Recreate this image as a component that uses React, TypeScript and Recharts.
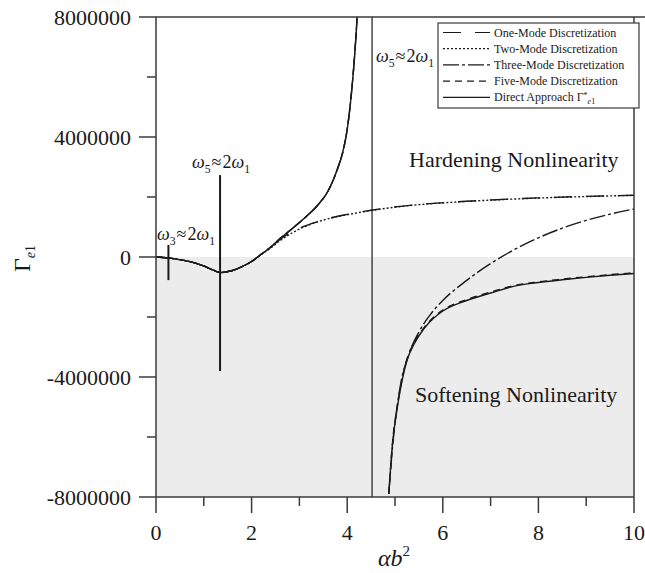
import React from "react";
import {
  LineChart,
  Line,
  XAxis,
  YAxis,
  ReferenceArea,
  ReferenceLine,
} from "recharts";

const FONT = '"Liberation Serif", "Times New Roman", serif';
const INK = "#1a1a1a";
const AXIS = "#3a3a3a";

// axes
const xTicks = [0, 1, 2, 3, 4, 5, 6, 7, 8, 9, 10];
const yTicks = [
  -8000000, -6000000, -4000000, -2000000, 0, 2000000, 4000000, 6000000,
  8000000,
];
const asymptoteX = 4.52;

// left branch shared by direct / five-mode / three-mode
const mainLeftX = [
  0, 0.25, 0.5, 0.75, 1.0, 1.2, 1.35, 1.45, 1.6, 1.8, 2.0, 2.2, 2.4, 2.6, 2.8,
  3.0, 3.2, 3.4, 3.6, 3.8, 3.9, 4.0, 4.1, 4.15, 4.2, 4.25,
];
const mainLeftY = [
  0, -30000, -90000, -170000, -300000, -440000, -520000, -500000, -450000,
  -320000, -150000, 90000, 330000, 620000, 880000, 1150000, 1430000, 1760000,
  2200000, 2950000, 3450000, 4250000, 5650000, 6600000, 7800000, 9500000,
];

// hardening branch (one-mode)
const upperX = [
  0, 0.25, 0.5, 0.75, 1.0, 1.2, 1.35, 1.45, 1.6, 1.8, 2.0, 2.2, 2.4, 2.6, 2.8,
  3.0, 3.25, 3.5, 4.0, 4.5, 5.0, 5.5, 6.0, 7.0, 8.0, 9.0, 10,
];
const oneModeY = [
  0, -30000, -90000, -170000, -300000, -440000, -520000, -500000, -450000,
  -320000, -150000, 90000, 330000, 590000, 800000, 960000, 1110000, 1240000,
  1420000, 1560000, 1670000, 1750000, 1810000, 1900000, 1970000, 2020000,
  2060000,
];
const twoModeY = [
  0, -30000, -90000, -170000, -300000, -440000, -520000, -500000, -450000,
  -320000, -150000, 80000, 300000, 550000, 760000, 930000, 1100000, 1230000,
  1410000, 1550000, 1660000, 1745000, 1805000, 1895000, 1965000, 2015000,
  2055000,
];

// softening branch right of the asymptote
const rightX = [
  4.87, 4.95, 5.05, 5.15, 5.25, 5.4, 5.6, 5.8, 6.0, 6.5, 7.0, 7.5, 8.0, 8.5,
  9.0, 9.5, 10,
];
const directRightY = [
  -7900000, -6200000, -5000000, -4100000, -3450000, -2900000, -2400000,
  -2050000, -1800000, -1450000, -1200000, -970000, -850000, -760000, -680000,
  -610000, -550000,
];
const fiveRightY = [
  -7900000, -6150000, -4950000, -4050000, -3400000, -2850000, -2370000,
  -2020000, -1770000, -1420000, -1170000, -950000, -830000, -740000, -660000,
  -590000, -525000,
];

// three-mode right branch
const threeRightX = [
  4.87, 4.95, 5.1, 5.3, 5.5, 5.75, 6.0, 6.5, 7.0, 7.5, 8.0, 8.5, 9.0, 9.5, 10,
];
const threeRightY = [
  -7900000, -6300000, -4400000, -3200000, -2500000, -1900000, -1450000,
  -780000, -220000, 250000, 640000, 960000, 1220000, 1430000, 1600000,
];

// narrow resonance spikes of the direct approach
const spike3 = [
  { x: 0.26, y: 400000 },
  { x: 0.26, y: -770000 },
];
const spike5 = [
  { x: 1.34, y: 2730000 },
  { x: 1.34, y: -3800000 },
];

const pts = (xs: number[], ys: number[]) =>
  xs.map((x, i) => ({ x, y: ys[i] }));

const mainLeft = pts(mainLeftX, mainLeftY);
const oneMode = pts(upperX, oneModeY);
const twoMode = pts(upperX, twoModeY);
const directRight = pts(rightX, directRightY);
const fiveRight = pts(rightX, fiveRightY);
const threeRight = pts(threeRightX, threeRightY);

const DASH = {
  one: "18 14",
  two: "2 2",
  three: "16 3 3 3",
  five: "7 5",
  direct: undefined as string | undefined,
};

const XTick = (props: any) => {
  const { x, y, payload } = props;
  const major = payload.value % 2 === 0;
  return (
    <g>
      <line
        x1={x}
        x2={x}
        y1={y}
        y2={y + (major ? 16 : 9)}
        stroke={AXIS}
        strokeWidth={1.5}
      />
      {major && (
        <text
          x={x}
          y={y + 35}
          textAnchor="middle"
          dominantBaseline="central"
          fontSize={22}
          fontFamily={FONT}
          fill={INK}
        >
          {payload.value}
        </text>
      )}
    </g>
  );
};

const YTick = (props: any) => {
  const { x, y, payload } = props;
  const major = payload.value % 4000000 === 0;
  return (
    <g>
      <line
        x1={x - (major ? 17 : 9)}
        x2={x}
        y1={y}
        y2={y}
        stroke={AXIS}
        strokeWidth={1.5}
      />
      {major && (
        <text
          x={x - 25}
          y={y}
          textAnchor="end"
          dominantBaseline="central"
          fontSize={22}
          fontFamily={FONT}
          fill={INK}
        >
          {payload.value}
        </text>
      )}
    </g>
  );
};

const Res = ({ x, y, n, size }: { x: number; y: number; n: string; size: number }) => (
  <text x={x} y={y} fontSize={size} fontFamily={FONT} fill={INK}>
    <tspan fontStyle="italic">ω</tspan>
    <tspan fontSize={size * 0.65} dy={size * 0.3}>
      {n}
    </tspan>
    <tspan dy={-size * 0.3} dx={1}>≈</tspan>
    <tspan dx={1}>2</tspan>
    <tspan fontStyle="italic">ω</tspan>
    <tspan fontSize={size * 0.65} dy={size * 0.3}>
      1
    </tspan>
  </text>
);

const legendRows = [
  { label: "One-Mode Discretization", dash: DASH.one },
  { label: "Two-Mode Discretization", dash: DASH.two },
  { label: "Three-Mode Discretization", dash: DASH.three },
  { label: "Five-Mode Discretization", dash: DASH.five },
  { label: "Direct Approach ", dash: DASH.direct },
];

export default function App() {
  const lineProps = {
    dataKey: "y",
    stroke: INK,
    strokeWidth: 1.4,
    dot: false,
    activeDot: false,
    isAnimationActive: false,
    type: "monotone" as const,
  };
  return (
    <div
      style={{
        position: "absolute",
        left: 0,
        top: 0,
        width: 645,
        height: 573,
        background: "#fff",
      }}
    >
      <LineChart
        width={645}
        height={573}
        margin={{ top: 17, right: 11, left: 0, bottom: 0 }}
      >
        <XAxis
          type="number"
          dataKey="x"
          domain={[0, 10]}
          ticks={xTicks}
          allowDataOverflow
          height={76}
          tickSize={0}
          tickMargin={0}
          tickLine={false}
          tick={<XTick />}
          axisLine={{ stroke: AXIS, strokeWidth: 1.5 }}
          interval={0}
        />
        <YAxis
          type="number"
          domain={[-8000000, 8000000]}
          ticks={yTicks}
          allowDataOverflow
          width={156}
          tickSize={0}
          tickMargin={0}
          tickLine={false}
          tick={<YTick />}
          axisLine={{ stroke: AXIS, strokeWidth: 1.5 }}
          interval={0}
        />
        <ReferenceArea
          x1={0}
          x2={10}
          y1={-8000000}
          y2={0}
          fill="#ebeceb"
          fillOpacity={1}
          stroke="none"
        />
        <ReferenceLine x={asymptoteX} stroke={INK} strokeWidth={1.2} />

        <Line {...lineProps} data={oneMode} strokeDasharray={DASH.one} />
        <Line {...lineProps} data={twoMode} strokeDasharray={DASH.two} />
        <Line {...lineProps} data={mainLeft} strokeDasharray={DASH.three} />
        <Line {...lineProps} data={threeRight} strokeDasharray={DASH.three} />
        <Line {...lineProps} data={mainLeft} strokeDasharray={DASH.five} />
        <Line {...lineProps} data={fiveRight} strokeDasharray={DASH.five} />
        <Line {...lineProps} data={mainLeft} />
        <Line {...lineProps} data={directRight} />
        <Line {...lineProps} type="linear" data={spike3} strokeWidth={2} />
        <Line {...lineProps} type="linear" data={spike5} strokeWidth={2} />
      </LineChart>

      <svg
        width={645}
        height={573}
        style={{ position: "absolute", left: 0, top: 0, pointerEvents: "none" }}
      >
        {/* frame */}
        <line x1={156} x2={645} y1={17} y2={17} stroke={AXIS} strokeWidth={1.5} />
        <line x1={634} x2={634} y1={17} y2={497} stroke={AXIS} strokeWidth={1.5} />

        <Res x={157} y={240} n="3" size={18} />
        <Res x={192} y={168} n="5" size={18} />
        <Res x={376} y={62} n="5" size={18} />

        <text x={409} y={167} fontSize={22} fontFamily={FONT} fill={INK}>
          Hardening Nonlinearity
        </text>
        <text x={415} y={402} fontSize={22} fontFamily={FONT} fill={INK}>
          Softening Nonlinearity
        </text>

        {/* axis titles */}
        <text x={378} y={566} fontSize={24} fontFamily={FONT} fill={INK}>
          <tspan fontStyle="italic">αb</tspan>
          <tspan fontSize={15} dy={-10}>
            2
          </tspan>
        </text>
        <text
          transform="translate(30,272) rotate(-90)"
          fontSize={24}
          fontFamily={FONT}
          fill={INK}
        >
          Γ
          <tspan fontStyle="italic" fontSize={14} dy={5}>
            e
          </tspan>
          <tspan fontSize={14}>1</tspan>
        </text>

        {/* legend */}
        <rect x={438} y={23} width={201} height={85} fill="#fff" stroke={AXIS} strokeWidth={1.2} />
        {legendRows.map((r, i) => {
          const cy = 32.5 + i * 16.2;
          return (
            <g key={r.label}>
              <line
                x1={443}
                x2={490}
                y1={cy}
                y2={cy}
                stroke={INK}
                strokeWidth={1.2}
                strokeDasharray={r.dash}
              />
              <text
                x={494}
                y={cy}
                dominantBaseline="central"
                fontSize={12}
                fontFamily={FONT}
                fill={INK}
              >
                {r.label}
                {i === 4 && (
                  <>
                    <tspan>Γ</tspan>
                    <tspan fontSize={8} dy={-2}>
                      *
                    </tspan>
                    <tspan fontSize={8} fontStyle="italic" dy={6}>
                      e
                    </tspan>
                    <tspan fontSize={8}>1</tspan>
                  </>
                )}
              </text>
            </g>
          );
        })}
      </svg>
    </div>
  );
}
